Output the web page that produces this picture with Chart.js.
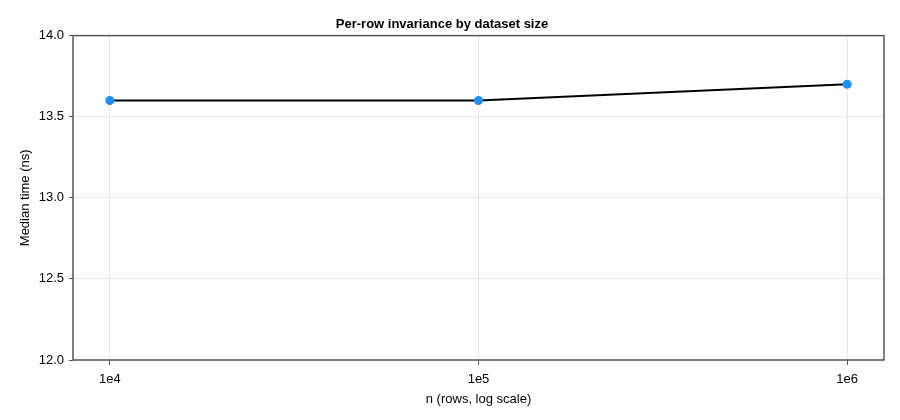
<!DOCTYPE html>
<html lang="en">
<head>
    <meta charset="UTF-8" />
    <title>Per-row invariance by dataset size</title>
    <script src="https://cdn.jsdelivr.net/npm/chart.js"></script>
    <style>
        html, body { margin: 0; padding: 0; background: #fff; }
        #wrap { width: 900px; height: 420px; position: relative; }
    </style>
</head>
<body>
<div id="wrap"><canvas id="chart"></canvas></div>

<script>
    // data
    const sizes = [1e4, 1e5, 1e6];
    const medianNs = [13.6, 13.6, 13.7];
    const xTickVals = [1e4, 1e5, 1e6];
    const xTickLabels = ['1e4', '1e5', '1e6'];
    const yTickVals = [12.0, 12.5, 13.0, 13.5, 14.0];

    const FONT = "'Liberation Sans', Arial, sans-serif";
    const frameColor = '#555';
    const gridColor = 'rgba(0,0,0,0.09)';

    // box around the plot area, like the reference
    const framePlugin = {
        id: 'frame',
        afterDraw(chart) {
            const a = chart.chartArea;
            const ctx = chart.ctx;
            ctx.save();
            ctx.strokeStyle = frameColor;
            ctx.lineWidth = 1.5;
            ctx.strokeRect(a.left, a.top, a.right - a.left, a.bottom - a.top);
            ctx.restore();
        }
    };

    const ctx = document.getElementById('chart').getContext('2d');
    new Chart(ctx, {
        type: 'line',
        data: {
            datasets: [{
                data: sizes.map((n, i) => ({ x: n, y: medianNs[i] })),
                borderColor: '#000',
                borderWidth: 2,
                pointBackgroundColor: '#1f8ffd',
                pointBorderWidth: 0,
                pointRadius: 4.5,
                tension: 0
            }]
        },
        options: {
            responsive: true,
            maintainAspectRatio: false,
            animation: false,
            layout: { padding: { left: 0, right: 16, top: 0, bottom: 0 } },
            plugins: {
                legend: { display: false },
                tooltip: { enabled: false },
                title: {
                    display: true,
                    text: 'Per-row invariance by dataset size',
                    color: '#000',
                    font: { family: FONT, size: 13, weight: 'bold' },
                    padding: { top: 17, bottom: 3 }
                }
            },
            scales: {
                x: {
                    type: 'logarithmic',
                    min: Math.pow(10, 3.9),
                    max: Math.pow(10, 6.1),
                    afterBuildTicks: s => { s.ticks = xTickVals.map(v => ({ value: v })); },
                    afterFit: s => { s.height = 60; },
                    ticks: {
                        color: '#000',
                        font: { family: FONT, size: 13 },
                        padding: 7,
                        maxRotation: 0,
                        callback: (v) => xTickLabels[xTickVals.indexOf(v)]
                    },
                    grid: { color: gridColor, tickColor: frameColor, tickLength: 5 },
                    border: { display: false },
                    title: {
                        display: true,
                        text: 'n (rows, log scale)',
                        color: '#000',
                        font: { family: FONT, size: 13 },
                        padding: { top: 0, bottom: 13 }
                    }
                },
                y: {
                    min: 12,
                    max: 14,
                    afterBuildTicks: s => { s.ticks = yTickVals.map(v => ({ value: v })); },
                    afterFit: s => { s.width = 73; },
                    ticks: {
                        color: '#000',
                        font: { family: FONT, size: 13 },
                        padding: 5,
                        callback: v => Number(v).toFixed(1)
                    },
                    grid: { color: gridColor, tickColor: frameColor, tickLength: 4 },
                    border: { display: false },
                    title: {
                        display: true,
                        text: 'Median time (ns)',
                        color: '#000',
                        font: { family: FONT, size: 13 },
                        padding: { top: 18, bottom: 0 }
                    }
                }
            }
        },
        plugins: [framePlugin]
    });
</script>
</body>
</html>
